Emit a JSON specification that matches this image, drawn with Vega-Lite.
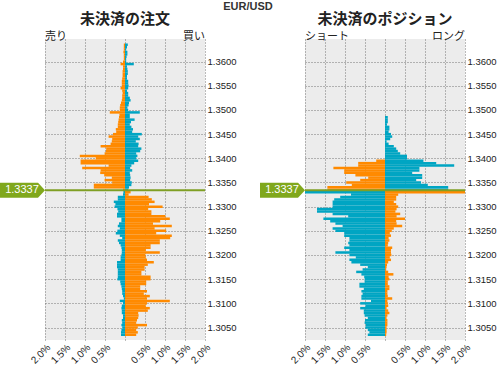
{
  "$schema": "https://vega.github.io/schema/vega-lite/v6.json",
  "padding": {"left": 0, "top": 0, "right": 0, "bottom": 0},
  "background": "white",
  "title": {"text": "EUR/USD", "fontSize": 11, "fontWeight": "bold", "font": "Liberation Sans", "color": "#333333", "anchor": "middle", "offset": 0},
  "bounds": "flush",
  "spacing": 100,
  "datasets": {
    "orders": [
      {"price":1.3635,"pct":-0.03},{"price":1.3635,"pct":0.07},
      {"price":1.3630,"pct":-0.03},{"price":1.3630,"pct":0.05},
      {"price":1.3625,"pct":-0.03},{"price":1.3625,"pct":0.03},
      {"price":1.3620,"pct":-0.04},{"price":1.3620,"pct":0.06},
      {"price":1.3615,"pct":-0.03},{"price":1.3615,"pct":0.06},
      {"price":1.3610,"pct":-0.03},{"price":1.3610,"pct":0.04},
      {"price":1.3605,"pct":-0.03},{"price":1.3605,"pct":0.03},
      {"price":1.3600,"pct":-0.05},{"price":1.3600,"pct":0.03},
      {"price":1.3595,"pct":-0.11},{"price":1.3595,"pct":0.22},
      {"price":1.3590,"pct":-0.05},{"price":1.3590,"pct":0.05},
      {"price":1.3585,"pct":-0.05},{"price":1.3585,"pct":0.06},
      {"price":1.3580,"pct":-0.06},{"price":1.3580,"pct":0.07},
      {"price":1.3575,"pct":-0.06},{"price":1.3575,"pct":0.07},
      {"price":1.3570,"pct":-0.06},{"price":1.3570,"pct":0.05},
      {"price":1.3565,"pct":-0.07},{"price":1.3565,"pct":0.05},
      {"price":1.3560,"pct":-0.08},{"price":1.3560,"pct":0.08},
      {"price":1.3555,"pct":-0.08},{"price":1.3555,"pct":0.08},
      {"price":1.3550,"pct":-0.08},{"price":1.3550,"pct":0.09},
      {"price":1.3545,"pct":-0.11},{"price":1.3545,"pct":0.08},
      {"price":1.3540,"pct":-0.07},{"price":1.3540,"pct":0.05},
      {"price":1.3535,"pct":-0.06},{"price":1.3535,"pct":0.08},
      {"price":1.3530,"pct":-0.07},{"price":1.3530,"pct":0.08},
      {"price":1.3525,"pct":-0.07},{"price":1.3525,"pct":0.12},
      {"price":1.3520,"pct":-0.08},{"price":1.3520,"pct":0.14},
      {"price":1.3515,"pct":-0.10},{"price":1.3515,"pct":0.10},
      {"price":1.3510,"pct":-0.12},{"price":1.3510,"pct":0.09},
      {"price":1.3505,"pct":-0.13},{"price":1.3505,"pct":0.06},
      {"price":1.3500,"pct":-0.13},{"price":1.3500,"pct":0.08},
      {"price":1.3495,"pct":-0.38},{"price":1.3495,"pct":0.37},
      {"price":1.3490,"pct":-0.14},{"price":1.3490,"pct":0.12},
      {"price":1.3485,"pct":-0.15},{"price":1.3485,"pct":0.12},
      {"price":1.3480,"pct":-0.16},{"price":1.3480,"pct":0.24},
      {"price":1.3475,"pct":-0.17},{"price":1.3475,"pct":0.15},
      {"price":1.3470,"pct":-0.18},{"price":1.3470,"pct":0.12},
      {"price":1.3465,"pct":-0.18},{"price":1.3465,"pct":0.16},
      {"price":1.3460,"pct":-0.23},{"price":1.3460,"pct":0.20},
      {"price":1.3455,"pct":-0.22},{"price":1.3455,"pct":0.18},
      {"price":1.3450,"pct":-0.30},{"price":1.3450,"pct":0.42},
      {"price":1.3445,"pct":-0.41},{"price":1.3445,"pct":0.33},
      {"price":1.3440,"pct":-0.32},{"price":1.3440,"pct":0.37},
      {"price":1.3435,"pct":-0.33},{"price":1.3435,"pct":0.27},
      {"price":1.3430,"pct":-0.36},{"price":1.3430,"pct":0.34},
      {"price":1.3425,"pct":-0.61},{"price":1.3425,"pct":0.33},
      {"price":1.3420,"pct":-0.47},{"price":1.3420,"pct":0.41},
      {"price":1.3415,"pct":-0.48},{"price":1.3415,"pct":0.38},
      {"price":1.3410,"pct":-0.51},{"price":1.3410,"pct":0.28},
      {"price":1.3405,"pct":-1.13},{"price":1.3405,"pct":0.31},
      {"price":1.3400,"pct":-0.73},{"price":1.3400,"pct":0.28},
      {"price":1.3395,"pct":-1.11},{"price":1.3395,"pct":0.33},
      {"price":1.3390,"pct":-1.11},{"price":1.3390,"pct":0.23},
      {"price":1.3385,"pct":-0.41},{"price":1.3385,"pct":0.16},
      {"price":1.3380,"pct":-1.07},{"price":1.3380,"pct":0.13},
      {"price":1.3375,"pct":-0.61},{"price":1.3375,"pct":0.18},
      {"price":1.3370,"pct":-0.62},{"price":1.3370,"pct":0.12},
      {"price":1.3365,"pct":-0.52},{"price":1.3365,"pct":0.13},
      {"price":1.3360,"pct":-0.33},{"price":1.3360,"pct":0.14},
      {"price":1.3355,"pct":-0.51},{"price":1.3355,"pct":0.13},
      {"price":1.3350,"pct":-0.32},{"price":1.3350,"pct":0.17},
      {"price":1.3345,"pct":-0.78},{"price":1.3345,"pct":0.16},
      {"price":1.3340,"pct":-0.78},{"price":1.3340,"pct":0.10},
      {"price":1.3335,"pct":-0.05},{"price":1.3335,"pct":0.08},
      {"price":1.3330,"pct":-0.04},{"price":1.3330,"pct":0.14},
      {"price":1.3325,"pct":-0.05},{"price":1.3325,"pct":0.09},
      {"price":1.3320,"pct":-0.18},{"price":1.3320,"pct":0.59},
      {"price":1.3315,"pct":-0.18},{"price":1.3315,"pct":0.67},
      {"price":1.3310,"pct":-0.28},{"price":1.3310,"pct":0.74},
      {"price":1.3305,"pct":-0.24},{"price":1.3305,"pct":0.60},
      {"price":1.3300,"pct":-0.26},{"price":1.3300,"pct":0.94},
      {"price":1.3295,"pct":-0.19},{"price":1.3295,"pct":0.58},
      {"price":1.3290,"pct":-0.17},{"price":1.3290,"pct":0.66},
      {"price":1.3285,"pct":-0.20},{"price":1.3285,"pct":0.66},
      {"price":1.3280,"pct":-0.20},{"price":1.3280,"pct":1.01},
      {"price":1.3275,"pct":-0.09},{"price":1.3275,"pct":1.12},
      {"price":1.3270,"pct":-0.09},{"price":1.3270,"pct":0.88},
      {"price":1.3265,"pct":-0.15},{"price":1.3265,"pct":0.70},
      {"price":1.3260,"pct":-0.18},{"price":1.3260,"pct":1.17},
      {"price":1.3255,"pct":-0.13},{"price":1.3255,"pct":0.74},
      {"price":1.3250,"pct":-0.19},{"price":1.3250,"pct":1.03},
      {"price":1.3245,"pct":-0.23},{"price":1.3245,"pct":0.78},
      {"price":1.3240,"pct":-0.13},{"price":1.3240,"pct":1.17},
      {"price":1.3235,"pct":-0.07},{"price":1.3235,"pct":1.13},
      {"price":1.3230,"pct":-0.18},{"price":1.3230,"pct":0.87},
      {"price":1.3225,"pct":-0.15},{"price":1.3225,"pct":0.87},
      {"price":1.3220,"pct":-0.11},{"price":1.3220,"pct":0.64},
      {"price":1.3215,"pct":-0.09},{"price":1.3215,"pct":0.64},
      {"price":1.3210,"pct":-0.08},{"price":1.3210,"pct":0.52},
      {"price":1.3205,"pct":-0.08},{"price":1.3205,"pct":0.87},
      {"price":1.3200,"pct":-0.09},{"price":1.3200,"pct":0.51},
      {"price":1.3195,"pct":-0.11},{"price":1.3195,"pct":0.52},
      {"price":1.3190,"pct":-0.11},{"price":1.3190,"pct":0.55},
      {"price":1.3185,"pct":-0.20},{"price":1.3185,"pct":0.72},
      {"price":1.3180,"pct":-0.20},{"price":1.3180,"pct":0.57},
      {"price":1.3175,"pct":-0.20},{"price":1.3175,"pct":0.49},
      {"price":1.3170,"pct":-0.18},{"price":1.3170,"pct":0.49},
      {"price":1.3165,"pct":-0.18},{"price":1.3165,"pct":0.41},
      {"price":1.3160,"pct":-0.18},{"price":1.3160,"pct":0.41},
      {"price":1.3155,"pct":-0.18},{"price":1.3155,"pct":0.64},
      {"price":1.3150,"pct":-0.19},{"price":1.3150,"pct":0.64},
      {"price":1.3145,"pct":-0.12},{"price":1.3145,"pct":0.53},
      {"price":1.3140,"pct":-0.11},{"price":1.3140,"pct":0.53},
      {"price":1.3135,"pct":-0.09},{"price":1.3135,"pct":0.38},
      {"price":1.3130,"pct":-0.08},{"price":1.3130,"pct":0.38},
      {"price":1.3125,"pct":-0.07},{"price":1.3125,"pct":0.55},
      {"price":1.3120,"pct":-0.07},{"price":1.3120,"pct":0.47},
      {"price":1.3115,"pct":-0.05},{"price":1.3115,"pct":0.62},
      {"price":1.3110,"pct":-0.03},{"price":1.3110,"pct":0.55},
      {"price":1.3105,"pct":-0.13},{"price":1.3105,"pct":1.12},
      {"price":1.3100,"pct":-0.05},{"price":1.3100,"pct":0.55},
      {"price":1.3095,"pct":-0.08},{"price":1.3095,"pct":0.52},
      {"price":1.3090,"pct":-0.09},{"price":1.3090,"pct":0.62},
      {"price":1.3085,"pct":-0.08},{"price":1.3085,"pct":0.57},
      {"price":1.3080,"pct":-0.08},{"price":1.3080,"pct":0.33},
      {"price":1.3075,"pct":-0.05},{"price":1.3075,"pct":0.34},
      {"price":1.3070,"pct":-0.05},{"price":1.3070,"pct":0.33},
      {"price":1.3065,"pct":-0.08},{"price":1.3065,"pct":0.30},
      {"price":1.3060,"pct":-0.07},{"price":1.3060,"pct":0.28},
      {"price":1.3055,"pct":-0.09},{"price":1.3055,"pct":0.55},
      {"price":1.3050,"pct":-0.07},{"price":1.3050,"pct":0.32},
      {"price":1.3045,"pct":-0.09},{"price":1.3045,"pct":0.28},
      {"price":1.3040,"pct":-0.10},{"price":1.3040,"pct":0.32},
      {"price":1.3035,"pct":-0.10},{"price":1.3035,"pct":0.28}
    ],
    "positions": [
      {"price":1.3485,"pct":0.07},
      {"price":1.3480,"pct":0.07},
      {"price":1.3475,"pct":0.07},
      {"price":1.3470,"pct":0.05},
      {"price":1.3465,"pct":0.11},
      {"price":1.3460,"pct":0.11},
      {"price":1.3455,"pct":0.09},
      {"price":1.3450,"pct":0.15},
      {"price":1.3445,"pct":0.18},
      {"price":1.3440,"pct":0.13},
      {"price":1.3435,"pct":0.04},
      {"price":1.3430,"pct":0.09},
      {"price":1.3425,"pct":0.22},
      {"price":1.3420,"pct":0.28},
      {"price":1.3415,"pct":0.32},
      {"price":1.3410,"pct":0.38},
      {"price":1.3405,"pct":0.55},
      {"price":1.3400,"pct":0.55},
      {"price":1.3395,"pct":-0.22},{"price":1.3395,"pct":0.96},
      {"price":1.3390,"pct":-0.67},{"price":1.3390,"pct":1.28},
      {"price":1.3385,"pct":-0.67},{"price":1.3385,"pct":1.73},
      {"price":1.3380,"pct":-1.29},{"price":1.3380,"pct":0.86},
      {"price":1.3375,"pct":-1.02},{"price":1.3375,"pct":0.86},
      {"price":1.3370,"pct":-1.02},{"price":1.3370,"pct":0.68},
      {"price":1.3365,"pct":-0.74},{"price":1.3365,"pct":0.93},
      {"price":1.3360,"pct":-0.42},{"price":1.3360,"pct":0.93},
      {"price":1.3355,"pct":-0.62},{"price":1.3355,"pct":0.78},
      {"price":1.3350,"pct":-0.97},{"price":1.3350,"pct":0.90},
      {"price":1.3345,"pct":-0.83},{"price":1.3345,"pct":1.07},
      {"price":1.3340,"pct":-1.44},{"price":1.3340,"pct":1.58},
      {"price":1.3335,"pct":-1.44},{"price":1.3335,"pct":1.58},
      {"price":1.3330,"pct":-2.10},{"price":1.3330,"pct":2.10},
      {"price":1.3325,"pct":-0.85},{"price":1.3325,"pct":0.33},
      {"price":1.3320,"pct":-1.12},{"price":1.3320,"pct":0.28},
      {"price":1.3315,"pct":-1.27},{"price":1.3315,"pct":0.28},
      {"price":1.3310,"pct":-1.31},{"price":1.3310,"pct":0.22},
      {"price":1.3305,"pct":-1.31},{"price":1.3305,"pct":0.28},
      {"price":1.3300,"pct":-1.31},{"price":1.3300,"pct":0.33},
      {"price":1.3295,"pct":-1.70},{"price":1.3295,"pct":0.29},
      {"price":1.3290,"pct":-1.70},{"price":1.3290,"pct":0.26},
      {"price":1.3285,"pct":-1.31},{"price":1.3285,"pct":0.38},
      {"price":1.3280,"pct":-0.92},{"price":1.3280,"pct":0.29},
      {"price":1.3275,"pct":-1.54},{"price":1.3275,"pct":0.50},
      {"price":1.3270,"pct":-1.37},{"price":1.3270,"pct":0.28},
      {"price":1.3265,"pct":-1.24},{"price":1.3265,"pct":0.29},
      {"price":1.3260,"pct":-1.06},{"price":1.3260,"pct":0.43},
      {"price":1.3255,"pct":-1.31},{"price":1.3255,"pct":0.22},
      {"price":1.3250,"pct":-1.24},{"price":1.3250,"pct":0.17},
      {"price":1.3245,"pct":-1.02},{"price":1.3245,"pct":0.12},
      {"price":1.3240,"pct":-1.02},{"price":1.3240,"pct":0.15},
      {"price":1.3235,"pct":-0.89},{"price":1.3235,"pct":0.09},
      {"price":1.3230,"pct":-0.89},{"price":1.3230,"pct":0.11},
      {"price":1.3225,"pct":-0.92},{"price":1.3225,"pct":0.08},
      {"price":1.3220,"pct":-0.89},{"price":1.3220,"pct":0.07},
      {"price":1.3215,"pct":-1.02},{"price":1.3215,"pct":0.18},
      {"price":1.3210,"pct":-0.89},{"price":1.3210,"pct":0.15},
      {"price":1.3205,"pct":-1.24},{"price":1.3205,"pct":0.15},
      {"price":1.3200,"pct":-0.89},{"price":1.3200,"pct":0.16},
      {"price":1.3195,"pct":-0.73},{"price":1.3195,"pct":0.12},
      {"price":1.3190,"pct":-0.89},{"price":1.3190,"pct":0.15},
      {"price":1.3185,"pct":-0.84},{"price":1.3185,"pct":0.08},
      {"price":1.3180,"pct":-0.62},{"price":1.3180,"pct":0.05},
      {"price":1.3175,"pct":-0.43},{"price":1.3175,"pct":0.04},
      {"price":1.3170,"pct":-0.56},{"price":1.3170,"pct":0.03},
      {"price":1.3165,"pct":-0.72},{"price":1.3165,"pct":0.08},
      {"price":1.3160,"pct":-0.59},{"price":1.3160,"pct":0.21},
      {"price":1.3155,"pct":-0.52},{"price":1.3155,"pct":0.09},
      {"price":1.3150,"pct":-0.51},{"price":1.3150,"pct":0.11},
      {"price":1.3145,"pct":-0.51},{"price":1.3145,"pct":0.07},
      {"price":1.3140,"pct":-0.64},{"price":1.3140,"pct":0.07},
      {"price":1.3135,"pct":-0.64},{"price":1.3135,"pct":0.11},
      {"price":1.3130,"pct":-0.53},{"price":1.3130,"pct":0.11},
      {"price":1.3125,"pct":-0.59},{"price":1.3125,"pct":0.06},
      {"price":1.3120,"pct":-0.56},{"price":1.3120,"pct":0.06},
      {"price":1.3115,"pct":-0.59},{"price":1.3115,"pct":0.07},
      {"price":1.3110,"pct":-0.59},{"price":1.3110,"pct":0.18},
      {"price":1.3105,"pct":-0.35},{"price":1.3105,"pct":0.06},
      {"price":1.3100,"pct":-0.62},{"price":1.3100,"pct":0.07},
      {"price":1.3095,"pct":-0.49},{"price":1.3095,"pct":0.08},
      {"price":1.3090,"pct":-0.62},{"price":1.3090,"pct":0.04},
      {"price":1.3085,"pct":-0.53},{"price":1.3085,"pct":0.08},
      {"price":1.3080,"pct":-0.53},{"price":1.3080,"pct":0.11},
      {"price":1.3075,"pct":-0.51},{"price":1.3075,"pct":0.06},
      {"price":1.3070,"pct":-0.43},{"price":1.3070,"pct":0.04},
      {"price":1.3065,"pct":-0.50},{"price":1.3065,"pct":0.06},
      {"price":1.3060,"pct":-0.51},{"price":1.3060,"pct":0.06},
      {"price":1.3055,"pct":-0.48},{"price":1.3055,"pct":0.06},
      {"price":1.3050,"pct":-0.49},{"price":1.3050,"pct":0.04},
      {"price":1.3045,"pct":-0.43},{"price":1.3045,"pct":0.04},
      {"price":1.3040,"pct":-0.39},{"price":1.3040,"pct":0.04},
      {"price":1.3035,"pct":-0.43},{"price":1.3035,"pct":0.03}
    ]
  },
  "hconcat": [
    {
      "width": 160,
      "height": 301,
      "title": {"text": "未決済の注文", "fontSize": 15, "font": "Noto Sans CJK JP", "fontWeight": "bold", "color": "#222222", "offset": 2, "dy": -2},
      "layer": [
        {
          "data": {"name": "orders"},
          "mark": {"type": "bar", "orient": "horizontal", "size": 2.5, "clip": true},
          "encoding": {
            "y": {"field": "price", "type": "quantitative", "scale": {"domain": [1.30345, 1.36365], "nice": false, "zero": false},
                  "axis": {"orient": "right", "values": [1.305,1.31,1.315,1.32,1.325,1.33,1.335,1.34,1.345,1.35,1.355,1.36], "tickCount": 30, "format": ".4f", "title": null, "labelOverlap": false, "labelFontSize": 9.5, "labelPadding": 2}},
            "x": {"field": "pct", "type": "quantitative", "stack": null, "scale": {"domain": [-2, 2], "nice": false},
                  "axis": {"values": [-2,-1.5,-1,-0.5,0,0.5,1,1.5,2], "tickCount": 30, "labelExpr": "datum.value == 0 ? '' : format(abs(datum.value), '.1f') + '%'", "labelAngle": -45, "title": null, "labelOverlap": false, "labelFontSize": 10, "labelPadding": 2}},
            "color": {"condition": {"test": "(datum.price > 1.3334) == (datum.pct < 0)", "value": "#ff8a00"}, "value": "#00a5c3"}
          }
        },
        {
          "data": {"values": [{}]},
          "mark": {"type": "rule", "color": "#7f9f24", "strokeWidth": 2},
          "encoding": {"y": {"datum": 1.3334}}
        },
        {
          "data": {"values": [{}]},
          "mark": {"type": "point", "shape": "M0,0L-0.7,-0.75L-4.5,-0.75L-4.5,0.75L-0.7,0.75Z", "size": 400, "filled": true, "color": "#80a81c", "opacity": 1, "strokeWidth": 0},
          "encoding": {"x": {"datum": -2}, "y": {"datum": 1.3334}}
        },
        {
          "data": {"values": [{"rate": "1.3337"}]},
          "mark": {"type": "text", "color": "white", "fontSize": 11, "dx": -23, "align": "center", "baseline": "middle", "font": "Liberation Sans"},
          "encoding": {"x": {"datum": -2}, "y": {"datum": 1.3334}, "text": {"field": "rate"}}
        },
        {
          "data": {"values": [{}]},
          "mark": {"type": "text", "align": "left", "baseline": "bottom", "dy": -2, "fontSize": 11, "font": "Noto Sans CJK JP", "color": "#222222"},
          "encoding": {"x": {"datum": -2}, "y": {"datum": 1.36365}, "text": {"value": "売り"}}
        },
        {
          "data": {"values": [{}]},
          "mark": {"type": "text", "align": "right", "baseline": "bottom", "dy": -2, "fontSize": 11, "font": "Noto Sans CJK JP", "color": "#222222"},
          "encoding": {"x": {"datum": 2}, "y": {"datum": 1.36365}, "text": {"value": "買い"}}
        }
      ]
    },
    {
      "width": 160,
      "height": 301,
      "title": {"text": "未決済のポジション", "fontSize": 15, "font": "Noto Sans CJK JP", "fontWeight": "bold", "color": "#222222", "offset": 2, "dy": -2},
      "layer": [
        {
          "data": {"name": "positions"},
          "mark": {"type": "bar", "orient": "horizontal", "size": 2.5, "clip": true},
          "encoding": {
            "y": {"field": "price", "type": "quantitative", "scale": {"domain": [1.30345, 1.36365], "nice": false, "zero": false},
                  "axis": {"orient": "right", "values": [1.305,1.31,1.315,1.32,1.325,1.33,1.335,1.34,1.345,1.35,1.355,1.36], "tickCount": 30, "format": ".4f", "title": null, "labelOverlap": false, "labelFontSize": 9.5, "labelPadding": 2}},
            "x": {"field": "pct", "type": "quantitative", "stack": null, "scale": {"domain": [-2, 2], "nice": false},
                  "axis": {"values": [-2,-1.5,-1,-0.5,0,0.5,1,1.5,2], "tickCount": 30, "labelExpr": "datum.value == 0 ? '' : format(abs(datum.value), '.1f') + '%'", "labelAngle": -45, "title": null, "labelOverlap": false, "labelFontSize": 10, "labelPadding": 2}},
            "color": {"condition": {"test": "(datum.price > 1.3334) == (datum.pct < 0)", "value": "#ff8a00"}, "value": "#00a5c3"}
          }
        },
        {
          "data": {"values": [{}]},
          "mark": {"type": "rule", "color": "#7f9f24", "strokeWidth": 2},
          "encoding": {"y": {"datum": 1.3334}}
        },
        {
          "data": {"values": [{}]},
          "mark": {"type": "point", "shape": "M0,0L-0.7,-0.75L-4.5,-0.75L-4.5,0.75L-0.7,0.75Z", "size": 400, "filled": true, "color": "#80a81c", "opacity": 1, "strokeWidth": 0},
          "encoding": {"x": {"datum": -2}, "y": {"datum": 1.3334}}
        },
        {
          "data": {"values": [{"rate": "1.3337"}]},
          "mark": {"type": "text", "color": "white", "fontSize": 11, "dx": -23, "align": "center", "baseline": "middle", "font": "Liberation Sans"},
          "encoding": {"x": {"datum": -2}, "y": {"datum": 1.3334}, "text": {"field": "rate"}}
        },
        {
          "data": {"values": [{}]},
          "mark": {"type": "text", "align": "left", "baseline": "bottom", "dy": -2, "fontSize": 11, "font": "Noto Sans CJK JP", "color": "#222222"},
          "encoding": {"x": {"datum": -2}, "y": {"datum": 1.36365}, "text": {"value": "ショート"}}
        },
        {
          "data": {"values": [{}]},
          "mark": {"type": "text", "align": "right", "baseline": "bottom", "dy": -2, "fontSize": 11, "font": "Noto Sans CJK JP", "color": "#222222"},
          "encoding": {"x": {"datum": 2}, "y": {"datum": 1.36365}, "text": {"value": "ロング"}}
        }
      ]
    }
  ],
  "config": {
    "view": {"fill": "#ececec", "stroke": null},
    "axis": {
      "grid": true, "gridDash": [1, 2], "gridColor": "#777777", "gridWidth": 1, "gridOpacity": 1,
      "ticks": false, "domain": false,
      "labelFont": "Liberation Sans", "labelColor": "#222222",
      "labelFlush": false, "labelOverlap": false, "labelBound": false
    }
  }
}
